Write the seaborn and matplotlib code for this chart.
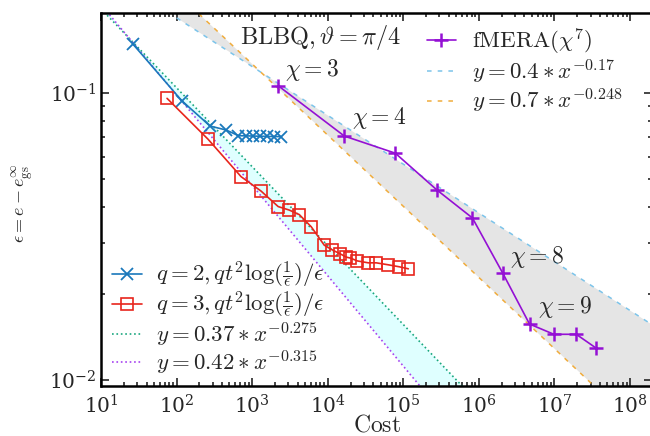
import numpy as np
import pandas as pd
import seaborn as sns
import matplotlib.pyplot as plt
from matplotlib.ticker import NullFormatter, LogLocator

# data
q2_cost = [26.5, 117, 278, 453, 659, 833, 1031, 1276, 1580, 1955, 2420]
q2_err = [0.148, 0.094, 0.0767, 0.0743, 0.0710, 0.0709, 0.0708, 0.0707, 0.0706, 0.0705, 0.0705]

q3_cost = [74.8, 261, 714, 1315, 2210, 3090, 4200, 6040, 8990, 11480, 14660,
           17600, 19900, 24600, 34400, 43900, 63200, 88500, 116500]
q3_err = [0.0958, 0.0690, 0.0511, 0.0455, 0.0402, 0.0391, 0.0377, 0.0342, 0.0295,
          0.0284, 0.0275, 0.0268, 0.0266, 0.0260, 0.0256, 0.0256, 0.0252, 0.0248, 0.0244]

mera_cost = [2230, 16560, 78300, 279000, 820000, 2.07e6, 4.67e6, 9.8e6, 1.94e7, 3.49e7]
mera_err = [0.1058, 0.0708, 0.0617, 0.0459, 0.0367, 0.02355, 0.01567, 0.01443, 0.01443, 0.01296]

# fitted power laws y = a * x^b
fit_mera_hi = (0.4, -0.17)
fit_mera_lo = (0.7, -0.248)
fit_q_hi = (0.37, -0.275)
fit_q_lo = (0.42, -0.315)

chi_labels = [r"$\chi=3$", r"$\chi=4$", r"$\chi=8$", r"$\chi=9$"]
chi_pos = [(2740, 0.120), (21100, 0.0818), (2.61e6, 0.0268), (5.96e6, 0.01795)]

sns.set_style("ticks")
plt.rcParams['mathtext.fontset'] = 'cm'
plt.rcParams['font.family'] = ['DejaVu Serif']
plt.rcParams['axes.formatter.use_mathtext'] = True

fig = plt.figure(figsize=(6.5, 4.36), dpi=100)
ax = fig.add_axes([101 / 650, 50 / 436, 551 / 650, 373 / 436])

# power law guide lines
xa = np.logspace(1, 8.35, 300)
xb = np.logspace(2, 8.35, 300)
fa = lambda p, x: p[0] * x ** p[1]

ax.fill_between(xb, fa(fit_mera_hi, xb), fa(fit_mera_lo, xb), color='#e5e5e5', lw=0, zorder=0)
ax.fill_between(xa, fa(fit_q_hi, xa), fa(fit_q_lo, xa), color='#dfffff', lw=0, zorder=0)

ax.plot(xb, fa(fit_mera_hi, xb), ls=(0, (3, 4)), color='#7cc4ea', lw=1.1, label=r"$y=0.4*x^{-0.17}$")
ax.plot(xb, fa(fit_mera_lo, xb), ls=(0, (3, 4)), color='#f0ac3c', lw=1.1, label=r"$y=0.7*x^{-0.248}$")
ax.plot(xa, fa(fit_q_hi, xa), ls=':', color='#1aa77f', lw=1.2, label=r"$y=0.37*x^{-0.275}$")
ax.plot(xa, fa(fit_q_lo, xa), ls=':', color='#a642f0', lw=1.2, label=r"$y=0.42*x^{-0.315}$")

# data series
df_q2 = pd.DataFrame({"cost": q2_cost, "err": q2_err})
df_q3 = pd.DataFrame({"cost": q3_cost, "err": q3_err})
df_m = pd.DataFrame({"cost": mera_cost, "err": mera_err})

lab_q2 = r"$q=2, qt^2\log(\frac{1}{\epsilon})/\epsilon$"
lab_q3 = r"$q=3, qt^2\log(\frac{1}{\epsilon})/\epsilon$"
lab_m = r"$\mathrm{fMERA}(\chi^7)$"

sns.lineplot(data=df_q2, x="cost", y="err", ax=ax, sort=False, color='#1a78bb', lw=1.2,
             marker='x', markersize=8, markeredgecolor='#1a78bb', markeredgewidth=1.3, label=lab_q2)
sns.lineplot(data=df_q3, x="cost", y="err", ax=ax, sort=False, color='#e8251c', lw=1.2,
             marker='s', markersize=8, markerfacecolor='none', markeredgecolor='#e8251c',
             markeredgewidth=1.2, label=lab_q3)
sns.lineplot(data=df_m, x="cost", y="err", ax=ax, sort=False, color='#9410d4', lw=1.2,
             marker='+', markersize=10, markeredgecolor='#9410d4', markeredgewidth=1.8, label=lab_m)

ax.set_xscale('log')
ax.set_yscale('log')
ax.set_xlim(10, 1.95e8)
ax.set_ylim(0.00953, 0.19)

ax.xaxis.set_major_locator(LogLocator(base=10, numticks=20))
ax.xaxis.set_minor_locator(LogLocator(base=10, subs=np.arange(2, 10), numticks=20))
ax.xaxis.set_minor_formatter(NullFormatter())
ax.yaxis.set_minor_formatter(NullFormatter())

ax.tick_params(which='both', direction='in', top=True, right=True, labelsize=14.5, width=1.2)
ax.tick_params(axis='x', which='major', pad=6)
ax.tick_params(which='major', length=6)
ax.tick_params(which='minor', length=3)
for s in ax.spines.values():
    s.set_linewidth(1.8)
    s.set_color('black')

ax.set_xlabel(r"$\mathrm{Cost}$", fontsize=17, labelpad=-3)
ax.set_ylabel(r"$\epsilon=e-e_{\mathrm{gs}}^{\infty}$", fontsize=13)
ax.yaxis.set_label_coords(-0.118, 0.49)

for t, (x, y) in zip(chi_labels, chi_pos):
    ax.text(x, y, t, fontsize=17, ha='left', va='center')
ax.text(0.252, 0.933, r"$\mathrm{BLBQ}, \vartheta=\pi/4$", transform=ax.transAxes,
        fontsize=17.5, ha='left', va='center')

h, lab = ax.get_legend_handles_labels()
hd = dict(zip(lab, h))
up = [lab_m, r"$y=0.4*x^{-0.17}$", r"$y=0.7*x^{-0.248}$"]
lo = [lab_q2, lab_q3, r"$y=0.37*x^{-0.275}$", r"$y=0.42*x^{-0.315}$"]
leg1 = ax.legend([hd[k] for k in up], up, loc='upper left', bbox_to_anchor=(0.57, 0.995),
                 frameon=False, fontsize=16.5, handlelength=1.3, handletextpad=0.7,
                 labelspacing=0.05, borderaxespad=0.1)
ax.add_artist(leg1)
ax.legend([hd[k] for k in lo], lo, loc='lower left', bbox_to_anchor=(0.0, -0.005),
          frameon=False, fontsize=16.5, handlelength=1.3, handletextpad=0.6,
          labelspacing=0.0, borderaxespad=0.1)

fig.savefig('out.png', dpi=100)
